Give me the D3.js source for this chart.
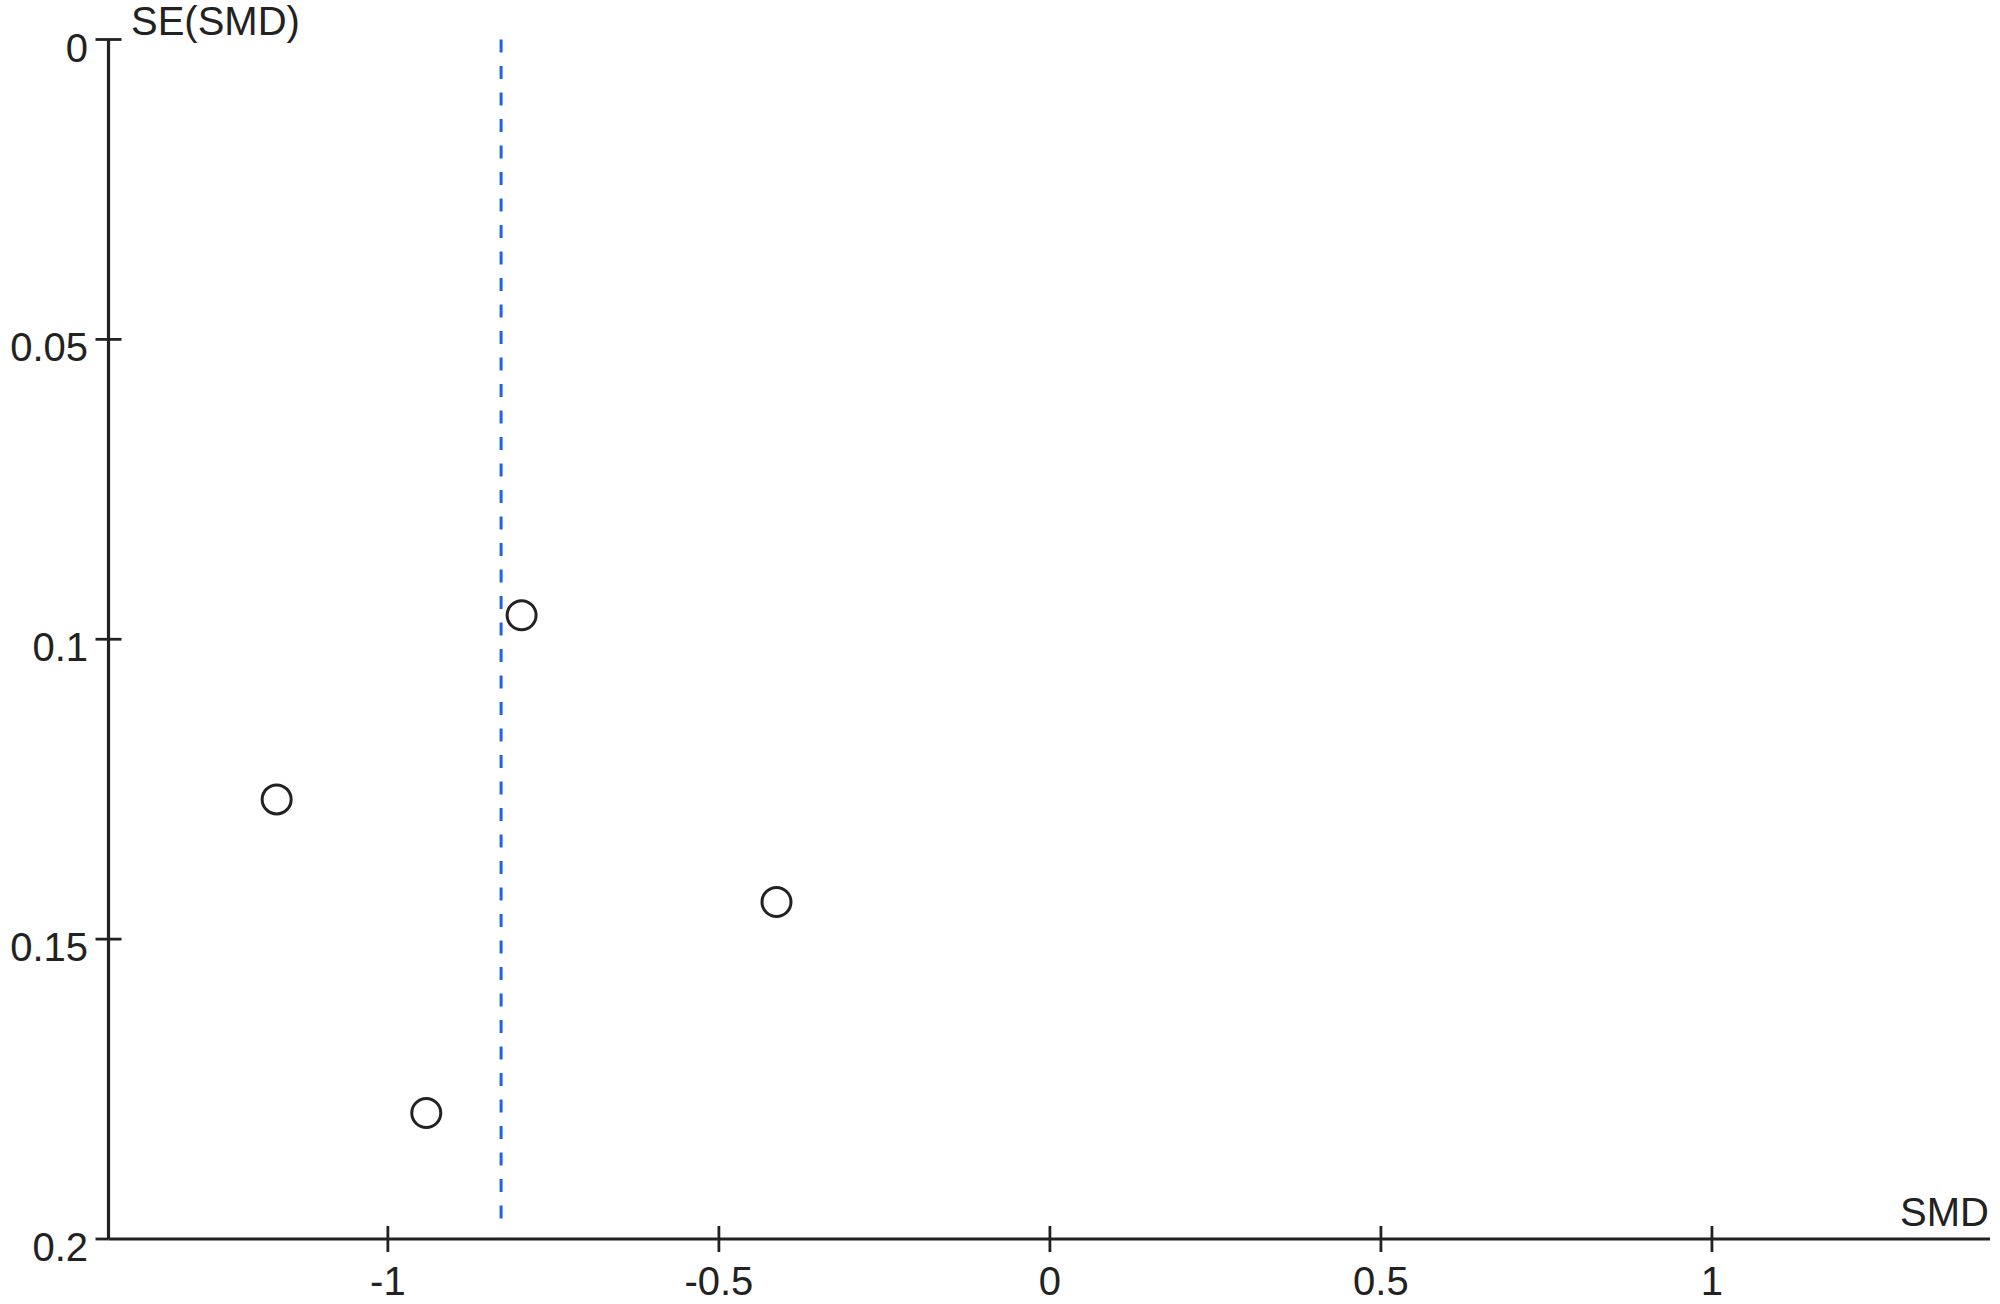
<!DOCTYPE html>
<html>
<head>
<meta charset="utf-8">
<script src="https://cdn.jsdelivr.net/npm/d3@7"></script>
<style>
  body { margin: 0; background: #fff; }
  text { font-family: "Liberation Sans", Arial, sans-serif; fill: #222; }
</style>
</head>
<body>
<div id="chart"></div>
<script>
// funnel plot data
var smd = [-0.798, -1.168, -0.413, -0.942]
var seSmd = [0.0960, 0.1267, 0.1438, 0.1790]
var pooledSmd = -0.829
var xTicks = [-1, -0.5, 0, 0.5, 1]
var yTicks = [0, 0.05, 0.1, 0.15, 0.2]

var width = 2000, height = 1304
// careful: "top" is window.top, so use other names
var plotLeft = 108.5, plotRight = 1990, plotTop = 39.5, plotBottom = 1239

let svg = d3.select("#chart")
  .append("svg")
  .attr("width", width)
  .attr("height", height)

let x = d3.scaleLinear().domain([-1.422, 1.42]).range([plotLeft, plotRight])
let y = d3.scaleLinear().domain([0, 0.2]).range([plotTop, plotBottom])

var ink = "#222"

// y axis
svg.append("line")
  .attr("x1", plotLeft).attr("x2", plotLeft)
  .attr("y1", plotTop).attr("y2", plotBottom)
  .attr("stroke", ink).attr("stroke-width", 3.2)

svg.selectAll(".ytick")
  .data(yTicks)
  .enter()
  .append("line")
  .attr("x1", plotLeft - 13)
  .attr("x2", d => d == 0.2 ? plotLeft : plotLeft + 13)
  .attr("y1", d => y(d)).attr("y2", d => y(d))
  .attr("stroke", ink).attr("stroke-width", 2.8)

svg.selectAll(".ylab")
  .data(yTicks)
  .enter()
  .append("text")
  .attr("x", 88)
  .attr("y", d => y(d) + 22)
  .attr("text-anchor", "end")
  .style("font-size", "40px")
  .text(d => d)

// x axis
svg.append("line")
  .attr("x1", plotLeft).attr("x2", plotRight)
  .attr("y1", plotBottom).attr("y2", plotBottom)
  .attr("stroke", ink).attr("stroke-width", 3.2)

svg.selectAll(".xtick")
  .data(xTicks)
  .enter()
  .append("line")
  .attr("x1", d => x(d)).attr("x2", d => x(d))
  .attr("y1", plotBottom - 13).attr("y2", plotBottom + 13)
  .attr("stroke", ink).attr("stroke-width", 2.8)

svg.selectAll(".xlab")
  .data(xTicks)
  .enter()
  .append("text")
  .attr("x", d => x(d))
  .attr("y", plotBottom + 56)
  .attr("text-anchor", "middle")
  .style("font-size", "40px")
  .text(d => d)

// axis titles
svg.append("text")
  .attr("x", 131).attr("y", 35)
  .style("font-size", "40px")
  .text("SE(SMD)")

svg.append("text")
  .attr("x", 1989).attr("y", 1226)
  .attr("text-anchor", "end")
  .style("font-size", "40px")
  .text("SMD")

// pooled estimate
svg.append("line")
  .attr("x1", x(pooledSmd)).attr("x2", x(pooledSmd))
  .attr("y1", plotTop).attr("y2", 1228)
  .attr("stroke", "#1f64e0")
  .attr("stroke-width", 3)
  .attr("stroke-dasharray", "13,13.5")

// studies
svg.selectAll(".pt")
  .data(smd)
  .enter()
  .append("circle")
  .attr("cx", d => x(d))
  .attr("cy", (d, i) => y(seSmd[i]))
  .attr("r", 14.5)
  .attr("fill", "none")
  .attr("stroke", ink)
  .attr("stroke-width", 3)
</script>
</body>
</html>
